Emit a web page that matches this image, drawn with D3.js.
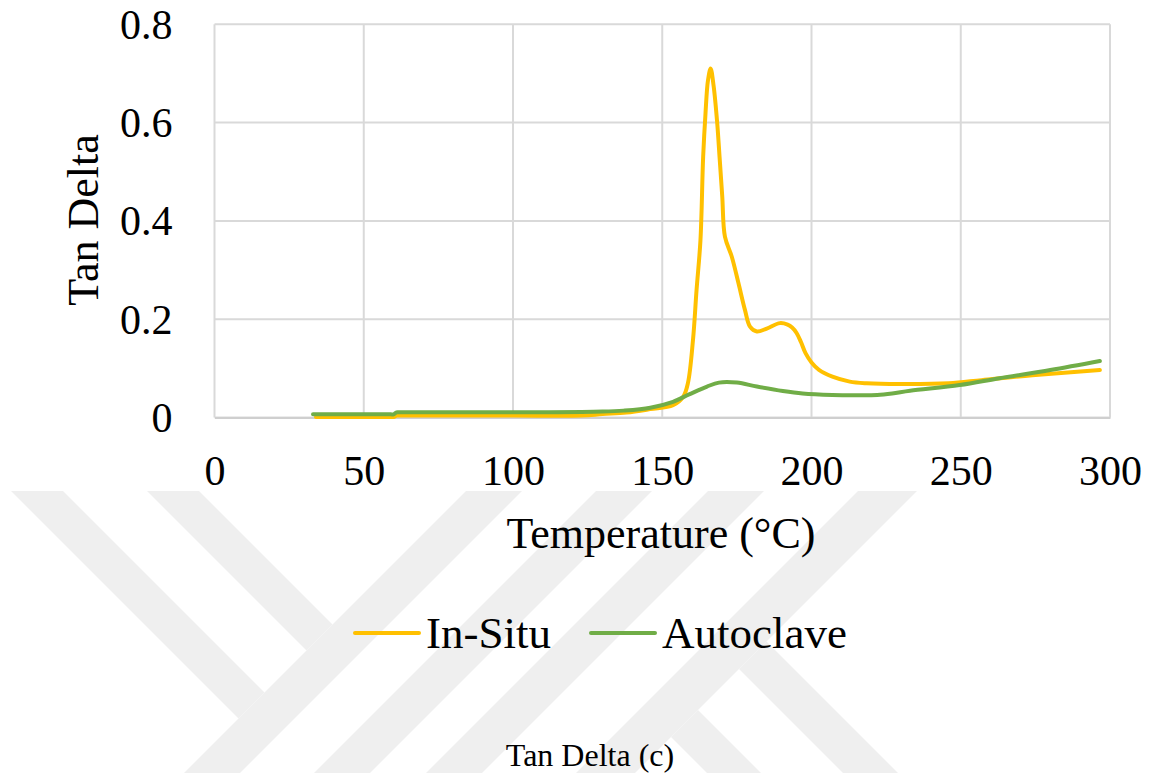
<!DOCTYPE html>
<html>
<head>
<meta charset="utf-8">
<script src="https://cdn.jsdelivr.net/npm/d3@7"></script>
<style>
  html, body { margin: 0; padding: 0; background: #ffffff; }
  svg { display: block; font-family: "Liberation Serif", "Times New Roman", serif; }
</style>
</head>
<body>
<svg id="chart" width="1150" height="773"></svg>
<script>
// Tan delta vs temperature for the two cure routes
const tempTicks = [0, 50, 100, 150, 200, 250, 300];
const tanTicks = [0, 0.2, 0.4, 0.6, 0.8];
const tanTickLabels = ["0", "0.2", "0.4", "0.6", "0.8"];

const seriesNames = ["In-Situ", "Autoclave"];
const seriesColors = ["#FFC000", "#70AD47"];

const insituTemp = [34, 45, 59, 60, 61, 62, 80, 100, 123, 130, 138, 146, 153.6, 157, 158.6, 160.3,
  161.5, 162.8, 163.7, 164.5, 165.3, 166.2, 167.2, 168.4, 169.2, 170.1, 171, 173.3, 175.5, 177.7,
  179.4, 181.7, 185, 189.4, 192, 193.5, 195, 196.5, 198, 200, 202.5, 207, 212.8, 218.5, 229.6,
  246, 257, 274, 296.6];
const insituTanDelta = [0.001, 0.001, 0.001, 0.001, 0.004, 0.004, 0.004, 0.004, 0.004, 0.007, 0.010,
  0.017, 0.025, 0.042, 0.07, 0.158, 0.26, 0.361, 0.53, 0.62, 0.685, 0.71, 0.675, 0.60, 0.53, 0.45,
  0.368, 0.327, 0.274, 0.219, 0.185, 0.175, 0.181, 0.192, 0.189, 0.183, 0.172, 0.153, 0.131, 0.112,
  0.097, 0.083, 0.073, 0.0696, 0.068, 0.0696, 0.076, 0.086, 0.0966];

const autoclaveTemp = [33, 45, 59, 60, 61, 62, 80, 112, 130, 137, 146, 153.6, 159, 165, 169, 175,
  181.7, 190.4, 197, 207, 215, 222, 227, 233, 249.6, 263, 280, 296.6];
const autoclaveTanDelta = [0.0065, 0.0065, 0.0065, 0.0065, 0.0106, 0.0106, 0.0106, 0.0106, 0.012,
  0.014, 0.020, 0.032, 0.047, 0.063, 0.071, 0.071, 0.063, 0.054, 0.049, 0.046, 0.0455, 0.046,
  0.049, 0.0545, 0.066, 0.080, 0.0966, 0.115];

const svg = d3.select("#chart");
const W = 1150, H = 773;

// ---- background emblem: light diagonal strokes below the chart ----
const emblemTop = 491, emblemBottom = H;
const risingStrokes = [[957, 1013], [1087, 1143], [1199, 1255], [1349, 1408]];   // x + y range
const fallingLeft = [[-480, -428], [-344, -292]];    // x - y range, ending on first rising stroke
const fallingRight = [[-66, -12], [70, 125]];        // x - y range, starting from last rising stroke
const endSum = risingStrokes[0][0];
const startSum = risingStrokes[risingStrokes.length - 1][1];
const emblem = svg.append("g").attr("fill", "#efefef");
risingStrokes.forEach(([c0, c1]) => {
  emblem.append("polygon").attr("points", [
    [c0 - emblemTop, emblemTop], [c1 - emblemTop, emblemTop],
    [c1 - emblemBottom, emblemBottom], [c0 - emblemBottom, emblemBottom]
  ].join(" "));
});
fallingLeft.forEach(([d0, d1]) => {
  emblem.append("polygon").attr("points", [
    [d0 + emblemTop, emblemTop], [d1 + emblemTop, emblemTop],
    [(d1 + endSum) / 2, (endSum - d1) / 2], [(d0 + endSum) / 2, (endSum - d0) / 2]
  ].join(" "));
});
fallingRight.forEach(([d0, d1]) => {
  emblem.append("polygon").attr("points", [
    [(d0 + startSum) / 2, (startSum - d0) / 2], [(d1 + startSum) / 2, (startSum - d1) / 2],
    [d1 + emblemBottom, emblemBottom], [d0 + emblemBottom, emblemBottom]
  ].join(" "));
});

// ---- chart ----
const x = d3.scaleLinear().domain([0, 300]).range([214.5, 1110]);
const y = d3.scaleLinear().domain([0, 0.8]).range([417.5, 24.3]);

const grid = svg.append("g").attr("stroke", "#d9d9d9").attr("stroke-width", 2);
grid.selectAll("line.v").data(tempTicks).join("line")
  .attr("x1", d => x(d)).attr("x2", d => x(d))
  .attr("y1", y(0.8)).attr("y2", y(0));
grid.selectAll("line.h").data(tanTicks).join("line")
  .attr("x1", x(0)).attr("x2", x(300))
  .attr("y1", d => y(d)).attr("y2", d => y(d));

// x axis labels
const xAxis = d3.axisBottom(x).tickValues(tempTicks).tickSize(0).tickPadding(0).tickFormat(d3.format("d"));
const gx = svg.append("g").attr("transform", `translate(0,${y(0)})`).call(xAxis);
gx.select(".domain").attr("stroke", "#cfcfcf").attr("stroke-width", 2);
gx.selectAll("text").attr("font-size", 42).attr("fill", "#000").attr("dy", null)
  .attr("y", 67.5).attr("font-family", "Liberation Serif");

// y axis labels
const yAxis = d3.axisLeft(y).tickValues(tanTicks).tickSize(0).tickPadding(0)
  .tickFormat((d, i) => tanTickLabels[i]);
const gy = svg.append("g").attr("transform", `translate(${x(0)},0)`).call(yAxis);
gy.select(".domain").remove();
gy.selectAll("text").attr("font-size", 42).attr("fill", "#000")
  .attr("x", -42).attr("dy", "0.33em").attr("font-family", "Liberation Serif");

// axis titles
svg.append("text").attr("x", 661).attr("y", 548).attr("text-anchor", "middle")
  .attr("font-size", 44).attr("fill", "#000").text("Temperature (°C)");
svg.append("text").attr("transform", "translate(98,220) rotate(-90)").attr("text-anchor", "middle")
  .attr("font-size", 44).attr("fill", "#000").text("Tan Delta");

// series, smoothed
const line = d3.line().x(d => x(d[0])).y(d => y(d[1])).curve(d3.curveCatmullRom.alpha(0.5));
const series = [
  d3.zip(insituTemp, insituTanDelta),
  d3.zip(autoclaveTemp, autoclaveTanDelta)
];
svg.append("g").selectAll("path").data(series).join("path")
  .attr("d", line)
  .attr("fill", "none")
  .attr("stroke", (d, i) => seriesColors[i])
  .attr("stroke-width", 4)
  .attr("stroke-linejoin", "round")
  .attr("stroke-linecap", "round");

// legend
const legendItems = [
  { name: seriesNames[0], color: seriesColors[0], x0: 355 },
  { name: seriesNames[1], color: seriesColors[1], x0: 591 }
];
const lg = svg.append("g");
legendItems.forEach(it => {
  lg.append("line").attr("x1", it.x0).attr("x2", it.x0 + 64).attr("y1", 633).attr("y2", 633)
    .attr("stroke", it.color).attr("stroke-width", 4).attr("stroke-linecap", "round");
  lg.append("text").attr("x", it.x0 + 71).attr("y", 648).attr("font-size", 45)
    .attr("fill", "#000").text(it.name);
});

// caption
svg.append("text").attr("x", 590).attr("y", 766).attr("text-anchor", "middle")
  .attr("font-size", 32).attr("fill", "#000").text("Tan Delta (c)");
</script>
</body>
</html>
